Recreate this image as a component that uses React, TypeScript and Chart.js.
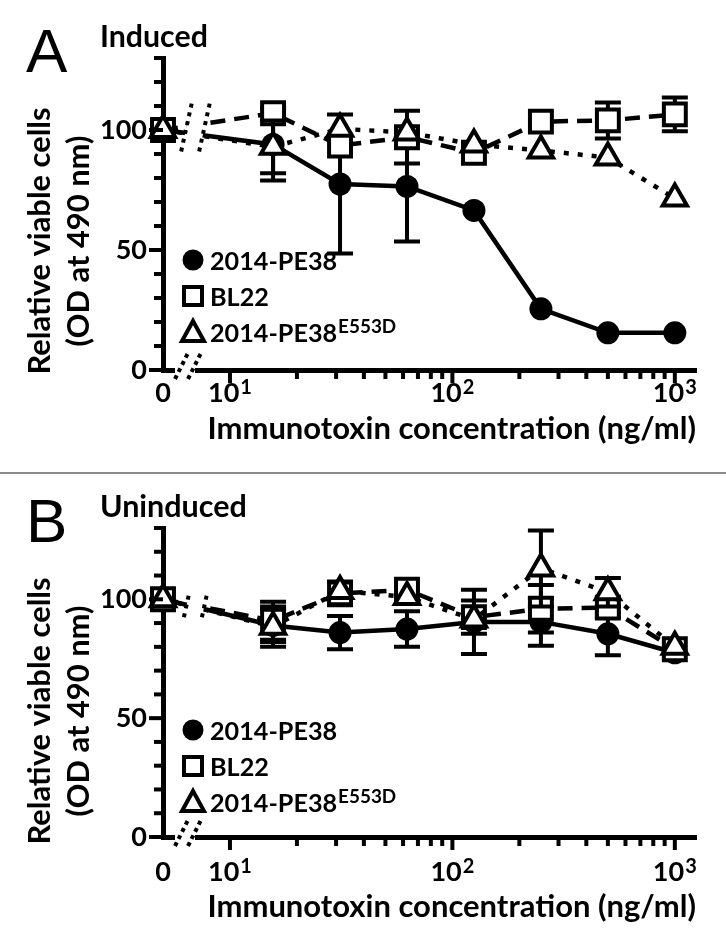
import React, { useEffect, useRef } from 'react';
import { Chart, registerables } from 'chart.js';

Chart.register(...registerables);

// ---------------- data ----------------
const concentrations = [0, 15.625, 31.25, 62.5, 125, 250, 500, 1000];

const seriesNames = ['2014-PE38', 'BL22', '2014-PE38'];
const seriesSuperscripts = ['', '', 'E553D'];

// Panel A (Induced)
const inducedPE38 = [100, 94, 77.5, 76.5, 66.5, 25.5, 15.5, 15.5];
const inducedPE38Err = [0, 15, 29, 23, 0, 0, 0, 0];
const inducedBL22 = [100, 107, 93.5, 97, 90.5, 103.5, 104, 106.5];
const inducedBL22Err = [0, 0, 0, 11, 0, 0, 7.5, 7];
const inducedE553D = [100, 93, 100.5, 99, 94, 91.5, 88.5, 71.5];
const inducedE553DErr = [0, 11, 0, 0, 0, 0, 0, 0];

// Panel B (Uninduced)
const uninducedPE38 = [100, 89, 86, 87.5, 90.5, 90.5, 85.5, 77.5];
const uninducedPE38Err = [0, 7, 7, 7.5, 13.5, 10, 9, 0];
const uninducedBL22 = [100, 91, 102.5, 104, 92.5, 96, 96.5, 79];
const uninducedBL22Err = [0, 8, 5, 0, 7, 10, 4, 0];
const uninducedE553D = [100, 88.5, 103.5, 101, 91.5, 113, 103, 80];
const uninducedE553DErr = [0, 8.5, 0, 0, 0, 16, 6, 0];

// axis labels
const yTickValues = [0, 50, 100];
const xMajorValues = [0, 10, 100, 1000];
const xTickBase = ['0', '10', '10', '10'];
const xTickExp = ['', '1', '2', '3'];
const xTitle = 'Immunotoxin concentration (ng/ml)';
const yTitleLines = ['Relative viable cells', '(OD at 490 nm)'];

const FONT = 'Lato, "Open Sans", "DejaVu Sans", sans-serif';
const W = 726;

type PanelCfg = {
  letter: string;
  title: string;
  titleWidth: number;
  height: number;
  top: number;
  bottom: number;
  pe38: number[]; pe38Err: number[];
  bl22: number[]; bl22Err: number[];
  e553d: number[]; e553dErr: number[];
  xLabelDrop: number;
  xTitlePad: number;
  breakSpan: [number, number];
};

const panelA: PanelCfg = {
  letter: 'A', title: 'Induced', titleWidth: 108, height: 472, top: 58, bottom: 370,
  pe38: inducedPE38, pe38Err: inducedPE38Err,
  bl22: inducedBL22, bl22Err: inducedBL22Err,
  e553d: inducedE553D, e553dErr: inducedE553DErr,
  xLabelDrop: 32, xTitlePad: 24, breakSpan: [111, 89.5],
};

const panelB: PanelCfg = {
  letter: 'B', title: 'Uninduced', titleWidth: 147, height: 471, top: 54, bottom: 363,
  pe38: uninducedPE38, pe38Err: uninducedPE38Err,
  bl22: uninducedBL22, bl22Err: uninducedBL22Err,
  e553d: uninducedE553D, e553dErr: uninducedE553DErr,
  xLabelDrop: 44, xTitlePad: 19, breakSpan: [101.5, 91.5],
};

let measureCtx: CanvasRenderingContext2D | null = null;
function fitSize(text: string, target: number, weight = 'bold', family = FONT): number {
  if (!measureCtx) measureCtx = document.createElement('canvas').getContext('2d');
  if (!measureCtx) return 24;
  measureCtx.font = `${weight} 100px ${family}`;
  const w = measureCtx.measureText(text).width || 1;
  return Math.round((1000 * target) / w) / 10;
}

function drawMarker(ctx: CanvasRenderingContext2D, style: string, x: number, y: number) {
  ctx.save();
  ctx.lineWidth = 4;
  ctx.strokeStyle = '#000';
  if (style === 'circle') {
    ctx.fillStyle = '#000';
    ctx.beginPath();
    ctx.arc(x, y, 10.5, 0, Math.PI * 2);
    ctx.fill();
  } else if (style === 'rect') {
    ctx.fillStyle = '#fff';
    ctx.fillRect(x - 9, y - 9, 18, 18);
    ctx.strokeRect(x - 9, y - 9, 18, 18);
  } else {
    ctx.fillStyle = '#fff';
    ctx.beginPath();
    ctx.moveTo(x, y - 11);
    ctx.lineTo(x + 11, y + 9);
    ctx.lineTo(x - 11, y + 9);
    ctx.closePath();
    ctx.fill();
    ctx.stroke();
  }
  ctx.restore();
}

function buildConfig(cfg: PanelCfg): any {
  const pts = (vals: number[]) => concentrations.map((c, i) => ({ x: c, y: vals[i] }));

  const tickSize = fitSize('100', 47);
  const xTitleSize = fitSize(xTitle, 488);
  const yTitleSize = fitSize(yTitleLines[0], 267);
  const legendSize = fitSize(seriesNames[0], 127);
  const supSize = fitSize(seriesSuperscripts[2], 58);
  const titleSize = fitSize(cfg.title, cfg.titleWidth);

  const panelPlugin = {
    id: 'panelDecor',
    beforeDatasetDraw(chart: any, args: any) {
      const ds = chart.data.datasets[args.index];
      const errs: number[] = ds.errorBars || [];
      const ys = chart.scales.y;
      const ctx = chart.ctx;
      ctx.save();
      ctx.strokeStyle = '#000';
      ctx.lineWidth = 4;
      ctx.setLineDash([]);
      args.meta.data.forEach((pt: any, i: number) => {
        const e = errs[i];
        if (!e) return;
        const v = ds.data[i].y;
        const yt = ys.getPixelForValue(v + e);
        const yb = ys.getPixelForValue(v - e);
        ctx.beginPath();
        ctx.moveTo(pt.x, yt); ctx.lineTo(pt.x, yb);
        ctx.moveTo(pt.x - 13, yt); ctx.lineTo(pt.x + 13, yt);
        ctx.moveTo(pt.x - 13, yb); ctx.lineTo(pt.x + 13, yb);
        ctx.stroke();
      });
      ctx.restore();
    },
    afterDatasetsDraw(chart: any) {
      const ctx = chart.ctx;
      const { left, bottom } = chart.chartArea;
      const ys = chart.scales.y;
      ctx.save();
      // data-line break
      const yT = ys.getPixelForValue(cfg.breakSpan[0]);
      const yB = ys.getPixelForValue(cfg.breakSpan[1]);
      const slant = 0.22;
      const s1 = left + 23, s2 = left + 41;
      const mid = (yT + yB) / 2;
      const xAt = (x0: number, y: number) => x0 - (y - mid) * slant;
      ctx.fillStyle = '#fff';
      ctx.beginPath();
      ctx.moveTo(xAt(s1, yT - 2), yT - 2);
      ctx.lineTo(xAt(s2, yT - 2), yT - 2);
      ctx.lineTo(xAt(s2, yB + 2), yB + 2);
      ctx.lineTo(xAt(s1, yB + 2), yB + 2);
      ctx.closePath();
      ctx.fill();
      ctx.strokeStyle = '#000';
      ctx.lineWidth = 4;
      ctx.setLineDash([4, 5]);
      [s1, s2].forEach((sx) => {
        ctx.beginPath();
        ctx.moveTo(xAt(sx, yT), yT);
        ctx.lineTo(xAt(sx, yB), yB);
        ctx.stroke();
      });
      // axis break
      const aT = bottom - 16, aB = bottom + 9;
      const aMid = bottom - 3;
      const ax = (x0: number, y: number) => x0 - (y - aMid) * 0.5;
      const a1 = left + 18, a2 = left + 31;
      ctx.setLineDash([]);
      ctx.fillStyle = '#fff';
      ctx.fillRect(left + 12, bottom - 4, 20, 8);
      ctx.setLineDash([4, 4]);
      [a1, a2].forEach((sx) => {
        ctx.beginPath();
        ctx.moveTo(ax(sx, aT), aT);
        ctx.lineTo(ax(sx, aB), aB);
        ctx.stroke();
      });
      ctx.restore();
    },
    afterDraw(chart: any) {
      const ctx = chart.ctx;
      const { left, top, bottom } = chart.chartArea;
      const xs = chart.scales.x;
      const ys = chart.scales.y;
      ctx.save();
      ctx.strokeStyle = '#000';
      ctx.fillStyle = '#000';
      ctx.lineWidth = 4;
      ctx.setLineDash([]);
      // tick marks
      xs.ticks.forEach((t: any) => {
        if (t.value === xs.min) return;
        const px = xs.getPixelForValue(t.value);
        const len = xMajorValues.includes(t.value) ? 13 : 9;
        ctx.beginPath();
        ctx.moveTo(px, bottom);
        ctx.lineTo(px, bottom + len);
        ctx.stroke();
      });
      ys.ticks.forEach((t: any) => {
        const py = ys.getPixelForValue(t.value);
        const len = yTickValues.includes(t.value) ? 14 : 9;
        ctx.beginPath();
        ctx.moveTo(left, py);
        ctx.lineTo(left - len, py);
        ctx.stroke();
      });
      // x tick labels with superscript exponents
      const baseFont = `bold ${tickSize}px ${FONT}`;
      const expSize = Math.round(tickSize * 0.74);
      const expFont = `bold ${expSize}px ${FONT}`;
      ctx.textBaseline = 'alphabetic';
      ctx.textAlign = 'left';
      const by = bottom + cfg.xLabelDrop;
      xMajorValues.forEach((v, i) => {
        const px = v === 0 ? xs.getPixelForValue(0) : xs.getPixelForValue(v);
        ctx.font = baseFont;
        const bw = ctx.measureText(xTickBase[i]).width;
        ctx.font = expFont;
        const ew = xTickExp[i] ? ctx.measureText(xTickExp[i]).width + 1 : 0;
        const x0 = px - (bw + ew) / 2;
        ctx.font = baseFont;
        ctx.fillText(xTickBase[i], x0, by);
        if (xTickExp[i]) {
          ctx.font = expFont;
          ctx.fillText(xTickExp[i], x0 + bw + 1, by - tickSize * 0.3);
        }
      });
      // panel letter and title
      ctx.font = '62px "Liberation Sans", Arial, sans-serif';
      ctx.fillText(cfg.letter, 26, top + 14);
      ctx.font = `bold ${titleSize}px ${FONT}`;
      ctx.fillText(cfg.title, 100, top - 11);
      // y title
      ctx.font = `bold ${yTitleSize}px ${FONT}`;
      ctx.textAlign = 'center';
      const yc = top + 183;
      [50, 89].forEach((bx, i) => {
        ctx.save();
        ctx.translate(bx, yc);
        ctx.rotate(-Math.PI / 2);
        ctx.fillText(yTitleLines[i], 0, 0);
        ctx.restore();
      });
      // legend
      const styles = ['circle', 'rect', 'triangle'];
      const mx = left + 30;
      styles.forEach((st, i) => {
        const my = top + 202 + i * 36;
        drawMarker(ctx, st, mx, my);
        ctx.textAlign = 'left';
        ctx.textBaseline = 'alphabetic';
        ctx.font = `bold ${legendSize}px ${FONT}`;
        const tx = mx + 17;
        ctx.fillText(seriesNames[i], tx, my + 10);
        if (seriesSuperscripts[i]) {
          const w = ctx.measureText(seriesNames[i]).width;
          ctx.font = `bold ${supSize}px ${FONT}`;
          ctx.fillText(seriesSuperscripts[i], tx + w + 1, my + 1);
        }
      });
      ctx.restore();
    },
  };

  const lineBase = {
    borderColor: '#000',
    borderWidth: 4.5,
    pointBorderColor: '#000',
    pointBorderWidth: 4,
    pointHoverRadius: 0,
    fill: false,
    tension: 0,
    clip: false,
  };

  return {
    type: 'line',
    data: {
      datasets: [
        {
          ...lineBase,
          label: seriesNames[2] + seriesSuperscripts[2],
          data: pts(cfg.e553d),
          errorBars: cfg.e553dErr,
          borderDash: [5, 9],
          pointStyle: 'triangle',
          pointRadius: 14,
          pointBackgroundColor: '#fff',
          order: 0,
        },
        {
          ...lineBase,
          label: seriesNames[1],
          data: pts(cfg.bl22),
          errorBars: cfg.bl22Err,
          borderDash: [15, 9],
          pointStyle: 'rect',
          pointRadius: 15.5,
          pointBackgroundColor: '#fff',
          order: 1,
        },
        {
          ...lineBase,
          label: seriesNames[0],
          data: pts(cfg.pe38),
          errorBars: cfg.pe38Err,
          pointStyle: 'circle',
          pointRadius: 11.5,
          pointBorderWidth: 0,
          pointBackgroundColor: '#000',
          order: 2,
        },
      ],
    },
    options: {
      animation: false,
      responsive: false,
      events: [],
      layout: { padding: { top: cfg.top, right: W - 696, left: 0, bottom: 0 } },
      plugins: { legend: { display: false }, tooltip: { enabled: false } },
      scales: {
        x: {
          type: 'logarithmic',
          min: 5,
          max: 1245,
          afterFit: (s: any) => { s.height = cfg.height - cfg.bottom; },
          afterBuildTicks: (s: any) => {
            const t: any[] = [{ value: s.min }];
            [10, 100].forEach((d) => {
              for (let k = 1; k <= 9; k++) t.push({ value: d * k });
            });
            t.push({ value: 1000 });
            s.ticks = t;
          },
          grid: { display: true, drawOnChartArea: false, drawTicks: false },
          border: { display: true, color: '#000', width: 5 },
          ticks: { display: false, autoSkip: false, maxRotation: 0 },
          title: {
            display: true,
            text: xTitle,
            align: 'end',
            color: '#000',
            font: { family: FONT, size: xTitleSize, weight: 'bold' },
            padding: { top: 0, bottom: cfg.xTitlePad },
          },
        },
        y: {
          min: 0,
          max: 130,
          afterFit: (s: any) => { s.width = 163; },
          grid: { display: true, drawOnChartArea: false, drawTicks: false },
          border: { display: true, color: '#000', width: 5 },
          ticks: {
            stepSize: 10,
            autoSkip: false,
            color: '#000',
            padding: 16,
            font: { family: FONT, size: tickSize, weight: 'bold' },
            callback: (v: number) => (yTickValues.includes(v) ? String(v) : ''),
          },
        },
      },
    },
    plugins: [panelPlugin],
  };
}

function Panel({ cfg }: { cfg: PanelCfg }) {
  const ref = useRef<HTMLCanvasElement | null>(null);
  useEffect(() => {
    if (!ref.current) return;
    const chart = new Chart(ref.current, buildConfig(cfg));
    return () => chart.destroy();
  }, [cfg]);
  return <canvas ref={ref} width={W} height={cfg.height} style={{ display: 'block', width: W, height: cfg.height }} />;
}

export default function App() {
  return (
    <div style={{ position: 'absolute', left: 0, top: 0, width: W, height: 945, background: '#fff' }}>
      <Panel cfg={panelA} />
      <div style={{ height: 2, background: '#8a8a8a' }} />
      <Panel cfg={panelB} />
    </div>
  );
}
